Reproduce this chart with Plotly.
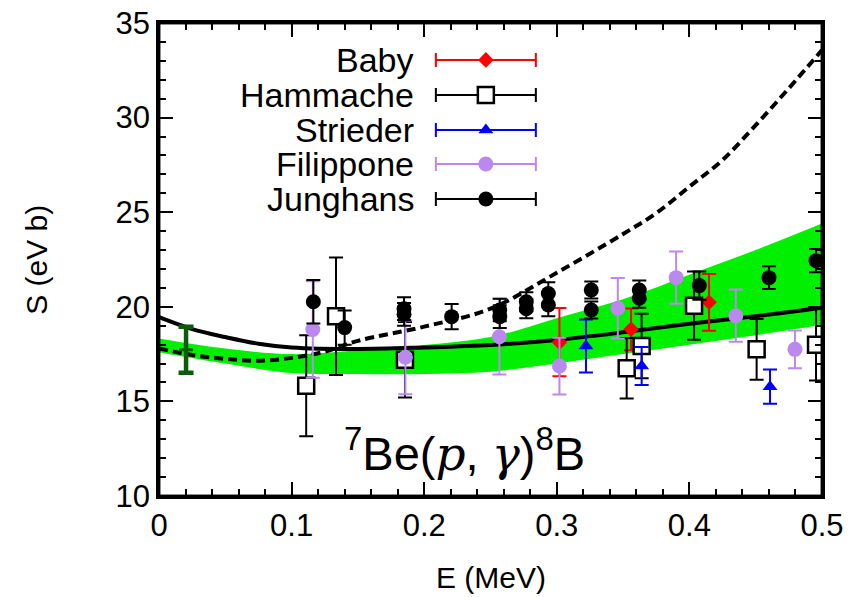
import plotly.graph_objects as go

# ---------------- data ----------------
baby_E = [0.302, 0.356, 0.4148]
baby_S = [18.13, 18.81, 20.24]
baby_err = [1.8, 1.1, 1.5]

ham_E = [0.111, 0.1335, 0.1855, 0.3527, 0.364, 0.4035, 0.4507, 0.4955]
ham_S = [15.83, 19.5, 17.2, 16.75, 17.93, 20.06, 17.75, 18.0]
ham_err = [2.67, 3.1, 2.0, 1.6, 1.7, 1.8, 1.6, 1.9]

str_E = [0.322, 0.364, 0.4608]
str_S = [17.93, 16.87, 15.78]
str_err = [1.4, 1.0, 0.9]

fil_E = [0.116, 0.1858, 0.2567, 0.302, 0.346, 0.39, 0.435, 0.4796]
fil_S = [18.8, 17.33, 18.42, 16.87, 19.92, 21.54, 19.53, 17.75]
fil_err = [2.55, 1.95, 2.0, 1.5, 1.6, 1.38, 1.38, 1.0]

jun_E = [0.1164, 0.140, 0.1848, 0.1848, 0.2207, 0.257, 0.257, 0.277, 0.277,
         0.2936, 0.2936, 0.326, 0.326, 0.3622, 0.3622, 0.4075, 0.460, 0.4955]
jun_S = [20.27, 18.9, 19.9, 19.6, 19.48, 19.83, 19.48, 20.27, 19.9,
         20.7, 20.1, 20.89, 19.83, 20.89, 20.45, 21.12, 21.54, 22.44]
jun_err = [1.15, 0.9, 0.6, 0.6, 0.67, 0.6, 0.6, 0.5, 0.5,
           0.6, 0.6, 0.45, 0.45, 0.5, 0.5, 0.75, 0.6, 0.62]

zero_E = [0.0204]
zero_S = [17.73]
zero_err = [1.22]

solid_E = [0, 0.025, 0.05, 0.075, 0.1, 0.15, 0.2, 0.25, 0.3, 0.35, 0.4, 0.45, 0.5]
solid_S = [19.45, 18.82, 18.4, 18.05, 17.85, 17.77, 17.85, 17.98, 18.25, 18.65, 19.1, 19.5, 19.95]

dash_E = [0, 0.025, 0.05, 0.075, 0.1, 0.125, 0.15, 0.2, 0.25, 0.3, 0.35, 0.375, 0.4, 0.425, 0.45, 0.475, 0.5]
dash_S = [17.8, 17.45, 17.25, 17.15, 17.3, 17.63, 18.2, 18.95, 19.9, 21.8, 23.85, 24.95, 26.35, 27.76, 29.6, 31.55, 33.57]

band_E = [0, 0.05, 0.1, 0.15, 0.2, 0.25, 0.3, 0.35, 0.4, 0.45, 0.5]
band_lo = [17.6, 17.0, 16.5, 16.45, 16.45, 16.57, 17.0, 17.5, 18.0, 18.5, 19.05]
band_hi = [18.33, 17.8, 17.5, 17.7, 17.98, 18.4, 19.4, 20.4, 21.7, 23.0, 24.4]

series_names = ["Baby", "Hammache", "Strieder", "Filippone", "Junghans"]
xticks = [0, 0.1, 0.2, 0.3, 0.4, 0.5]
xticklabels = ["0", "0.1", "0.2", "0.3", "0.4", "0.5"]
yticks = [10, 15, 20, 25, 30, 35]
yticklabels = ["10", "15", "20", "25", "30", "35"]

X_RANGE = [0, 0.5]
Y_RANGE = [10, 35]

# ---------------- styles ----------------
FONT = "Liberation Sans, Arial, Helvetica, sans-serif"
styles = {
    "Baby": dict(color="#ff0000", symbol="diamond", size=12, fill="#ff0000", lw=0),
    "Hammache": dict(color="#000000", symbol="square", size=16, fill="#ffffff", lw=2.5),
    "Strieder": dict(color="#0000ff", symbol="triangle-up", size=13, fill="#0000ff", lw=0),
    "Filippone": dict(color="#bb88f0", symbol="circle", size=15, fill="#bb88f0", lw=0),
    "Junghans": dict(color="#000000", symbol="circle", size=15, fill="#000000", lw=0),
}
data = {
    "Baby": (baby_E, baby_S, baby_err),
    "Hammache": (ham_E, ham_S, ham_err),
    "Strieder": (str_E, str_S, str_err),
    "Filippone": (fil_E, fil_S, fil_err),
    "Junghans": (jun_E, jun_S, jun_err),
}

fig = go.Figure()

# green band
fig.add_trace(go.Scatter(x=band_E, y=band_lo, mode="lines", line=dict(width=0, shape="spline"),
                         showlegend=False, hoverinfo="skip"))
fig.add_trace(go.Scatter(x=band_E, y=band_hi, mode="lines", line=dict(width=0, shape="spline"),
                         fill="tonexty", fillcolor="#00f000", showlegend=False, hoverinfo="skip"))

# curves
fig.add_trace(go.Scatter(x=solid_E, y=solid_S, mode="lines",
                         line=dict(color="black", width=4, shape="spline"), showlegend=False))
fig.add_trace(go.Scatter(x=dash_E, y=dash_S, mode="lines",
                         line=dict(color="black", width=4, dash="9px,5px", shape="spline"), showlegend=False))

# zero-energy extrapolation bar
fig.add_trace(go.Scatter(x=zero_E, y=zero_S, mode="markers",
                         marker=dict(symbol="line-ew", size=10, line=dict(color="#0a5c0a", width=3)),
                         error_y=dict(type="data", array=zero_err, color="#0a5c0a", thickness=4.5, width=7.5),
                         showlegend=False))

# data series
for name in series_names:
    E, S, err = data[name]
    st = styles[name]
    fig.add_trace(go.Scatter(
        x=E, y=S, mode="markers", name=name, showlegend=False,
        marker=dict(symbol=st["symbol"], size=st["size"], color=st["fill"],
                    line=dict(color=st["color"], width=st["lw"])),
        error_y=dict(type="data", array=err, color=st["color"], thickness=2, width=7),
    ))

# plot frame drawn along the axis range limits (kept visible outside the clip)
fig.add_trace(go.Scatter(
    x=[X_RANGE[0], X_RANGE[1], X_RANGE[1], X_RANGE[0], X_RANGE[0]],
    y=[Y_RANGE[0], Y_RANGE[0], Y_RANGE[1], Y_RANGE[1], Y_RANGE[0]],
    mode="lines", line=dict(color="black", width=2.5), cliponaxis=False,
    showlegend=False, hoverinfo="skip"))

# manual legend (text left, sample right); key positions given as fractions of the plot area
leg_rows = [0.922, 0.848, 0.774, 0.702, 0.628]
leg_key_x = 0.493
leg_key_half = 0.0754
for name, ry in zip(series_names, leg_rows):
    st = styles[name]
    kx = X_RANGE[0] + leg_key_x * (X_RANGE[1] - X_RANGE[0])
    ky = Y_RANGE[0] + ry * (Y_RANGE[1] - Y_RANGE[0])
    fig.add_trace(go.Scatter(
        x=[kx], y=[ky], mode="markers", showlegend=False, hoverinfo="skip",
        marker=dict(symbol=st["symbol"], size=st["size"], color=st["fill"],
                    line=dict(color=st["color"], width=st["lw"])),
        error_x=dict(type="data", array=[leg_key_half * (X_RANGE[1] - X_RANGE[0])],
                     color=st["color"], thickness=2, width=7),
    ))
    fig.add_annotation(x=0.388, y=ry, xref="paper", yref="paper", text=name, showarrow=False,
                       xanchor="right", yanchor="middle", font=dict(family=FONT, size=34, color="black"))

# reaction label
fig.add_annotation(
    x=0.4615, y=0.097, xref="paper", yref="paper", showarrow=False, xanchor="center", yanchor="middle",
    text="<sup>7</sup>Be(<span style='font-family:DejaVu Serif;font-style:italic'>p</span>, "
         "<span style='font-family:DejaVu Serif;font-style:italic'>γ</span>)<sup>8</sup>B",
    font=dict(family=FONT, size=47, color="black"))

# axis titles as annotations for exact placement
fig.add_annotation(x=0.5, y=-0.173, xref="paper", yref="paper", showarrow=False,
                   xanchor="center", yanchor="middle", text="E (MeV)",
                   font=dict(family=FONT, size=30, color="black"))
fig.add_annotation(x=-0.185, y=0.5, xref="paper", yref="paper", showarrow=False, textangle=-90,
                   xanchor="center", yanchor="middle", text="S (eV b)",
                   font=dict(family=FONT, size=30, color="black"))

# plot frame shape
fig.add_shape(type="rect", xref="paper", yref="paper", x0=0, x1=1, y0=0, y1=1,
              line=dict(color="black", width=2.5), layer="above")

axis_common = dict(showline=True, linecolor="black", linewidth=2.5, mirror="allticks",
                   ticks="inside", ticklen=14, tickwidth=2, tickcolor="black",
                   showgrid=False, zeroline=False, automargin=False, ticklabeloverflow="allow",
                   tickfont=dict(family=FONT, size=31, color="black"))

# the page body adds an 8px offset; margins compensate so the frame lands where it should
fig.update_layout(
    width=859, height=597,
    margin=dict(l=151, r=45, t=15, b=109, autoexpand=False),
    paper_bgcolor="white", plot_bgcolor="white",
    showlegend=False,
    xaxis=dict(range=X_RANGE, tickvals=xticks, ticktext=xticklabels,
               minor=dict(dtick=0.02, ticks="inside", ticklen=7, tickwidth=2, tickcolor="black"),
               **axis_common),
    yaxis=dict(range=Y_RANGE, tickvals=yticks, ticktext=yticklabels,
               minor=dict(dtick=1, ticks="inside", ticklen=7, tickwidth=2, tickcolor="black"),
               **axis_common),
)

fig.write_html("out.html")
